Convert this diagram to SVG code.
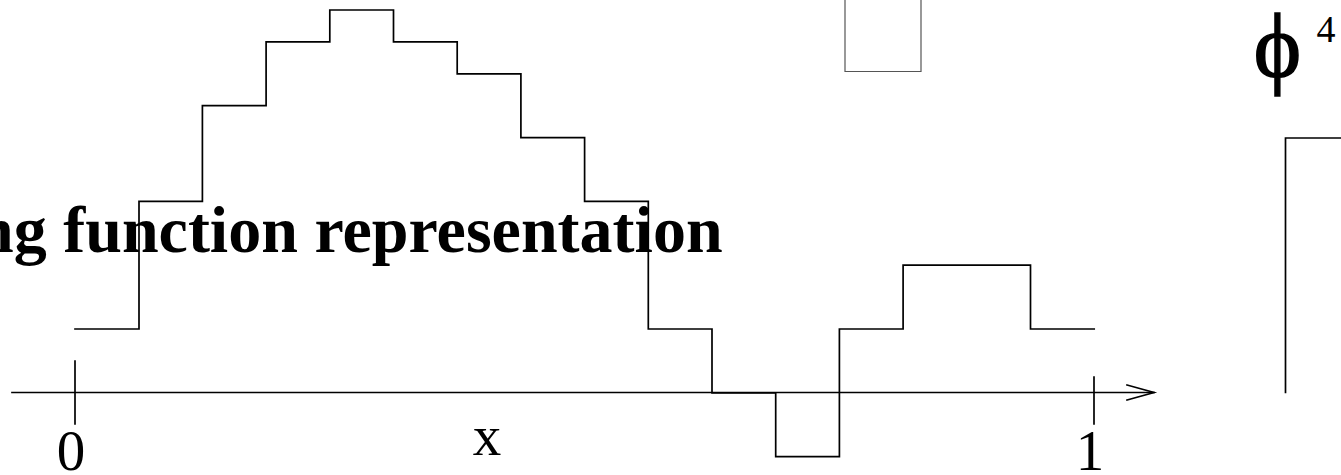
<svg xmlns="http://www.w3.org/2000/svg" width="1341" height="475" viewBox="0 0 1341 475">
<style>
.ln{fill:none;stroke:#000;stroke-width:1.7;stroke-linecap:square}
.thin{fill:none;stroke:#555;stroke-width:1.2}
.lbl{font-family:"Liberation Serif","Times New Roman",serif;fill:#000}
.title{font-family:"Liberation Serif","Times New Roman",serif;font-weight:bold;fill:#000}
</style>
<rect width="1341" height="475" fill="#fff"/>
<g id="title"><text class="title" x="-23" y="252" font-size="66">ng function representation</text></g>
<g id="axis">
<path class="ln" d="M12,392.5 H1154"/>
<path class="ln" d="M1127,385 L1154,392.5 L1127,400" stroke-linejoin="miter"/>
<path class="ln" d="M75,361 V424"/>
<path class="ln" d="M1094,377 V424"/>
<text class="lbl" x="71" y="470" font-size="57" text-anchor="middle">0</text>
<text class="lbl" x="1090" y="470" font-size="57" text-anchor="middle">1</text>
<text class="lbl" x="487" y="455" font-size="57" text-anchor="middle">x</text>
</g>
<g id="step">
<path class="ln" stroke-linecap="butt" d="M75,329 H139 V201.4 H202.4 V105.7 H266.1 V41.9 H329.8 V10 H393.5 V41.9 H457.2 V73.8 H520.9 V137.6 H584.6 V201.4 H648.3 V329 H712 V392.8 H775.7 V456.6 H839.4 V329 H903.1 V265.2 H1030.5 V329 H1094.2"/>
</g>
<g id="box-top"><path class="thin" d="M845,-2 V71.5 H921 V-2"/></g>
<g id="phi-label">
<text class="lbl" x="1277.5" y="77" font-size="90" text-anchor="middle" stroke="#000" stroke-width="1.5">ϕ</text>
<text class="lbl" x="1326" y="42" font-size="38" text-anchor="middle">4</text>
</g>
<g id="box-right"><path class="ln" stroke-linecap="butt" d="M1342,138 H1285.5 V392.5"/></g>
</svg>
